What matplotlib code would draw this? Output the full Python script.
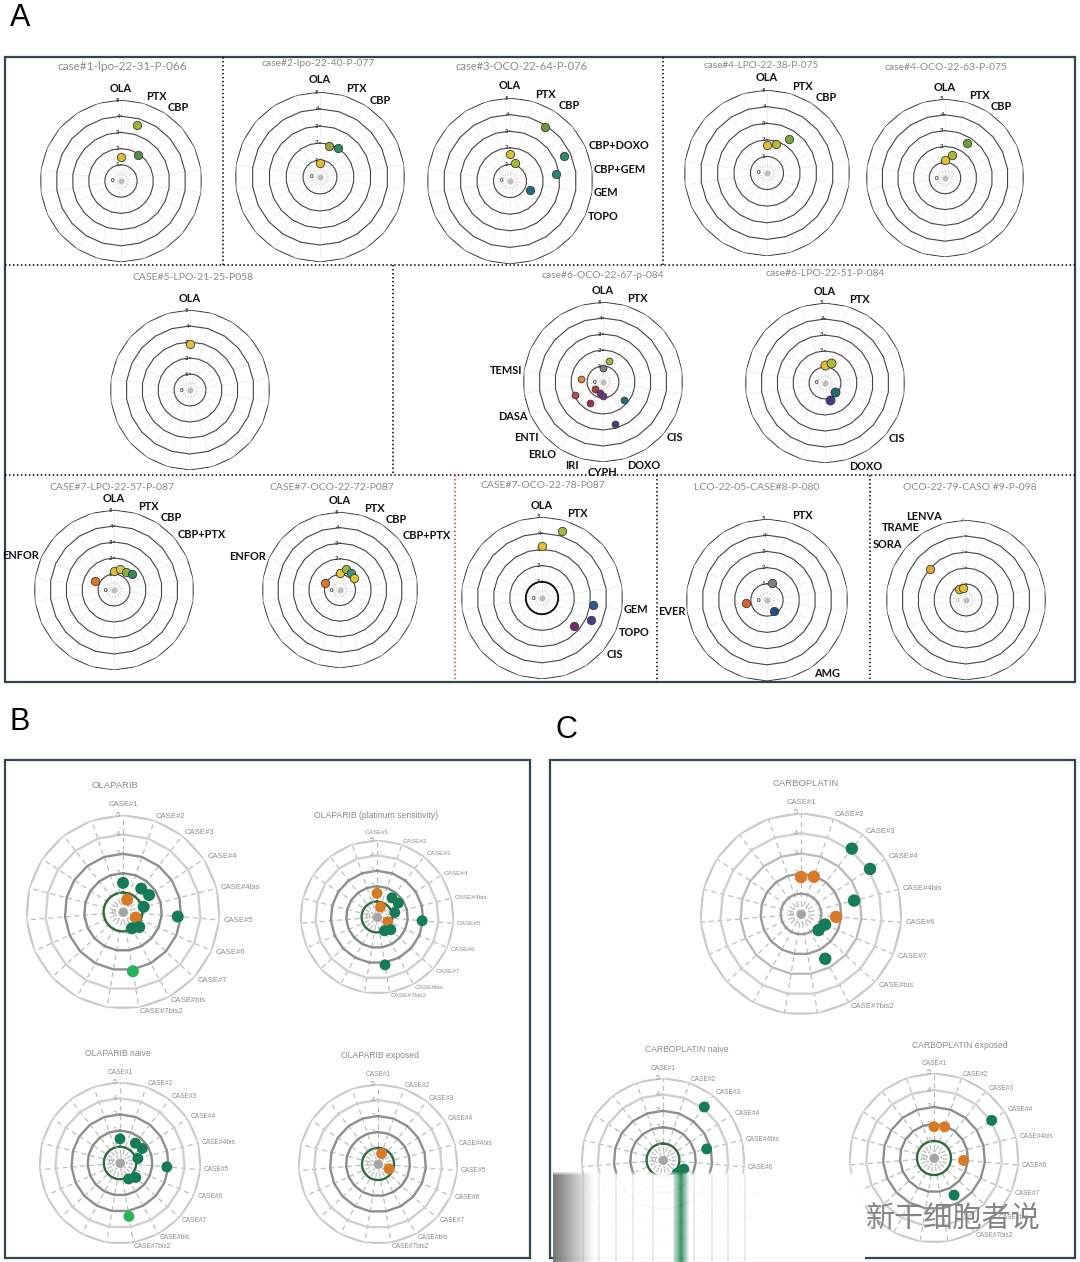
import numpy as np
import matplotlib.pyplot as plt
from matplotlib.patches import Rectangle

# ---------------- data ----------------
# panel A: every radar shares the same 22 drug spokes, clockwise from the top
drugs = ['OLA', 'PTX', 'CBP', 'CBP+PTX', 'CBP+DOXO', 'CBP+GEM', 'GEM', 'TOPO',
         'CIS', 'AMG', 'DOXO', 'CYPH', 'IRI', 'ERLO', 'ENTI', 'DASA', 'EVER',
         'TEMSI', 'ENFOR', 'SORA', 'TRAME', 'LENVA']

case1_title = 'case#1-lpo-22-31-P-066'
case1_drugs = ['OLA', 'PTX', 'CBP']
case1_scores = [1.5, 3.6, 1.9]
case1_colors = ['#e2bc2c', '#a3b23a', '#4e9440']

case2_title = 'case#2-lpo-22-40-P-077'
case2_drugs = ['OLA', 'PTX', 'CBP']
case2_scores = [0.8, 1.9, 2.0]
case2_colors = ['#e2bc2c', '#9aaa3a', '#2e8a5a']

case3_title = 'case#3-OCO-22-64-P-076'
case3_drugs = ['OLA', 'PTX', 'CBP', 'CBP+DOXO', 'CBP+GEM', 'GEM', 'TOPO']
case3_scores = [1.6, 1.1, 3.9, 3.6, 2.8, None, 1.35]
case3_colors = ['#e0bf30', '#a8b83a', '#6a9a3a', '#2a8a70', '#268479', None, '#1f6e80']

case4l_title = 'case#4-LPO-22-38-P-075'
case4l_drugs = ['OLA', 'PTX', 'CBP']
case4l_scores = [1.7, 1.85, 2.4]
case4l_colors = ['#e0bf30', '#b8b83a', '#7aa83a']

case4o_title = 'case#4-OCO-22-63-P-075'
case4o_drugs = ['OLA', 'PTX', 'CBP']
case4o_scores = [1.15, 1.5, 2.6]
case4o_colors = ['#e6c230', '#aab83a', '#6ea03a']

case5_title = 'CASE#5-LPO-21-25-P058'
case5_drugs = ['OLA']
case5_scores = [2.9]
case5_colors = ['#e6c230']

case6o_title = 'case#6-OCO-22-67-p-084'
case6o_drugs = ['OLA', 'PTX', 'TEMSI', 'DASA', 'ENTI', 'ERLO', 'IRI', 'CYPH', 'DOXO', 'CIS']
case6o_scores = [0.85, 1.4, 1.4, 1.95, 0.65, 1.55, 0.72, 0.85, 2.75, 1.7]
case6o_colors = ['#7f7f7f', '#a8b83a', '#d98a3a', '#c0484a', '#b03a3a', '#a83050',
                 '#7a2f7a', '#6a3a8a', '#4a3a8a', '#1f6e80']

case6l_title = 'case#6-LPO-22-51-P-084'
case6l_drugs = ['OLA', 'PTX', 'CIS', 'DOXO']
case6l_scores = [1.15, 1.3, 0.82, 1.1]
case6l_colors = ['#e3c02a', '#b8b83a', '#1f6a7a', '#3f3a8a']

case7l_title = 'CASE#7-LPO-22-57-P-087'
case7l_drugs = ['OLA', 'PTX', 'CBP', 'CBP+PTX', 'ENFOR']
case7l_scores = [1.2, 1.38, 1.35, 1.5, 1.3]
case7l_colors = ['#e0c030', '#d6c84a', '#8ab03a', '#2e8a5a', '#d9782a']

case7o_title = 'CASE#7-OCO-22-72-P087'
case7o_drugs = ['OLA', 'PTX', 'CBP', 'CBP+PTX', 'ENFOR']
case7o_scores = [1.08, 1.4, 1.3, 1.18, 1.08]
case7o_colors = ['#e6c830', '#9ab83a', '#3a9a7a', '#e0c830', '#d9782a']

case7b_title = 'CASE#7-OCO-22-78-P087'
case7b_drugs = ['OLA', 'PTX', 'GEM', 'TOPO', 'CIS']
case7b_scores = [3.2, 4.3, 3.2, 3.3, 2.6]
case7b_colors = ['#e6c230', '#a8b83a', '#2a5a9a', '#4a3a8a', '#7a2a6a']

case8_title = 'LCO-22-05-CASE#8-P-080'
case8_drugs = ['PTX', 'EVER', 'AMG']
case8_scores = [1.07, 1.3, 0.82]
case8_colors = ['#7f7f7f', '#d9602a', '#1f4e8a']

case9_title = 'OCO-22-79-CASO #9-P-098'
case9_drugs = ['SORA', 'TRAME', 'LENVA']
case9_scores = [3.0, 0.82, 0.75]
case9_colors = ['#e0a838', '#e6b82a', '#e6c030']

# panels B and C: 19 spokes, one per case
ola_cases = ['CASE#1', 'CASE#2', 'CASE#3', 'CASE#4', 'CASE#4bis', 'CASE#5',
             'CASE#6', 'CASE#7', 'CASE#bis', 'CASE#7bis2']
cbp_cases = ['CASE#1', 'CASE#2', 'CASE#3', 'CASE#4', 'CASE#4bis', 'CASE#6',
             'CASE#7', 'CASE#bis', 'CASE#7bis2']

GR, OR, LG = '#157c57', '#d97a27', '#26b35b'
ola_all = [1.5, 0.67, 1.53, 1.6, 1.1, 2.83, 0.72, 1.14, 0.96, 3.1]
ola_all_colors = [GR, OR, GR, GR, GR, GR, OR, GR, GR, LG]
ola_plat = [1.54, 0.69, 1.58, 1.65, 1.19, 2.94, 0.76, 1.22, 1.02, 3.15]
ola_plat_colors = [OR, OR, GR, GR, GR, GR, OR, GR, GR, GR]
ola_naive = [1.49, None, 1.55, 1.64, 1.14, 2.9, None, 1.32, 1.12, 3.34]
ola_naive_colors = [GR, None, GR, GR, GR, GR, None, GR, GR, LG]
ola_exp = [None, 0.69, None, None, None, None, 0.75, None, None, None]
ola_exp_colors = [None, OR, None, None, None, None, OR, None, None, None]

cbp_all = [1.83, 1.95, 4.1, 4.08, 2.71, 1.74, 1.3, 1.18, 2.52]
cbp_all_colors = [OR, OR, GR, GR, GR, OR, GR, GR, GR]
cbp_naive = [None, None, 4.1, None, 2.75, None, 1.38, 1.18, None]
cbp_naive_colors = [None, None, GR, None, GR, None, GR, GR, None]
cbp_exp = [1.84, 1.94, None, 4.05, None, 1.74, None, None, 2.48]
cbp_exp_colors = [OR, OR, None, GR, None, OR, None, None, GR]

# ---------------- figure ----------------
W, H = 1080, 1262
fig = plt.figure(figsize=(W / 100, H / 100), dpi=100)
bg = fig.add_axes([0, 0, 1, 1])
bg.set_xlim(0, W)
bg.set_ylim(H, 0)
bg.axis('off')

A_FONT = ['Lato', 'DejaVu Sans']
B_FONT = ['Liberation Sans', 'DejaVu Sans']
FRAME = '#2e4650'


def polar_at(cx, cy, R):
    ax = fig.add_axes([(cx - R) / W, 1 - (cy + R) / H, 2 * R / W, 2 * R / H],
                      projection='polar')
    ax.set_theta_zero_location('N')
    ax.set_theta_direction(-1)
    ax.set_ylim(0, 5)
    ax.axis('off')
    return ax


def label_align(deg):
    if deg < 8 or deg > 352:
        return 'center', 'bottom'
    if abs(deg - 180) < 8:
        return 'center', 'top'
    if deg < 180:
        return 'left', 'center'
    return 'right', 'center'


def radar_a(cx, cy, R, names, scores, colors, msize=36, ring_lab='#333333', bold_ring=False):
    ax = polar_at(cx, cy, R)
    n = len(drugs)
    th = np.linspace(0, 2 * np.pi, n + 1)
    circ = np.linspace(0, 2 * np.pi, 120)
    for k in range(n):
        ax.plot([th[k], th[k]], [0, 5], color='#d8d8d8', lw=0.5, ls=(0, (2, 2)))
    for v in range(1, 6):
        ax.plot(th, np.full(n + 1, v), color='#444444', lw=0.8)
    ax.plot(circ, np.full(120, 0.45), color='#cccccc', lw=0.8, ls=':')
    ax.scatter([0], [0], s=9, color='#bdbdbd', zorder=3)
    if bold_ring:
        ax.plot(circ, np.ones(120), color='#111111', lw=1.3)
    for v in range(6):
        ax.annotate(str(v), (0, v), xytext=(-4.5 if v == 0 else -1.2, 0),
                    textcoords='offset points', ha='right', va='center',
                    fontsize=4.4, color=ring_lab, fontweight='bold', family=A_FONT)
    for name, sc, col in zip(names, scores, colors):
        t = 2 * np.pi * drugs.index(name) / n
        ha, va = label_align(np.degrees(t))
        if va == 'bottom':
            r_lab = 5.4
        elif va == 'top':
            r_lab = 5.3
        else:
            r_lab = 5.0 + 0.45 * abs(np.cos(t))
        ax.text(t, r_lab, name, ha=ha, va=va, fontsize=7.9, fontweight='bold',
                family=A_FONT, color='#111111')
        if sc is not None:
            ax.scatter(t, sc, s=msize, color=col, edgecolors='#3a3a3a',
                       linewidths=0.6, zorder=6, clip_on=False)
    return ax


def radar_b(cx, cy, R, cases, values, colors, ring_cols, fs=5.3, msize=60):
    ax = polar_at(cx, cy, R)
    n = 19
    th = np.linspace(0, 2 * np.pi, n + 1)
    circ = np.linspace(0, 2 * np.pi, 120)
    for k in range(n):
        ax.plot([th[k], th[k]], [0, 5], color='#bdbdbd', lw=0.9, ls=(0, (4, 3)))
    for v in range(2, 6):
        ax.plot(th, np.full(n + 1, v), color=ring_cols[v - 1], lw=1.7)
    ax.plot(circ, np.ones(120), color=ring_cols[0], lw=1.7)
    ax.plot(circ, np.full(120, 0.42), color='#bfbfbf', lw=1.4, ls=(0, (1, 1.5)))
    ax.scatter([0], [0], s=28, color='#a5a5a5', zorder=3)
    for v in range(6):
        ax.annotate(str(v), (0, v), xytext=(-5 if v == 0 else -2, 0),
                    textcoords='offset points', ha='right', va='center',
                    fontsize=5.5, color='#a0a0a0', family=B_FONT)
    for i, name in enumerate(cases):
        t = 2 * np.pi * i / n
        ha, va = label_align(np.degrees(t))
        ax.text(t, 5.35 if va == 'bottom' else 5.2, name, ha=ha, va=va,
                fontsize=fs, color='#8c8c8c', family=B_FONT)
    for i, (val, col) in enumerate(zip(values, colors)):
        if val is not None:
            ax.scatter(2 * np.pi * i / n, val, s=msize, color=col,
                       edgecolors='none', zorder=6, clip_on=False)
    return ax


# ---------------- panel A ----------------
bg.text(20, 18, 'A', fontsize=22, ha='center', va='center', family=B_FONT)
bg.add_patch(Rectangle((5, 57), 1070, 625, fill=False, ec=FRAME, lw=1.6))
dots = (0, (1, 1.6))
bg.plot([5, 1075], [265, 265], color='k', lw=1.1, ls=dots)
bg.plot([5, 1075], [475, 475], color='k', lw=1.1, ls=dots)
for x, y0, y1, c in [(223, 57, 265, 'k'), (663, 57, 265, 'k'), (393, 265, 475, 'k'),
                     (455, 475, 682, '#d03a3a'), (657, 475, 682, 'k'), (870, 475, 682, 'k')]:
    bg.plot([x, x], [y0, y1], color=c, lw=1.1, ls=dots)

panels_a = [
    (case1_title, case1_drugs, case1_scores, case1_colors, (121, 181, 81), (122, 66), 8.5, {}),
    (case2_title, case2_drugs, case2_scores, case2_colors, (320, 177, 85), (318, 63), 7.5, {}),
    (case3_title, case3_drugs, case3_scores, case3_colors, (510, 181, 83), (522, 67), 8.0, {}),
    (case4l_title, case4l_drugs, case4l_scores, case4l_colors, (767, 173, 83), (761, 65), 7.2, {}),
    (case4o_title, case4o_drugs, case4o_scores, case4o_colors, (945, 178, 79), (946, 67), 7.5, {}),
    (case5_title, case5_drugs, case5_scores, case5_colors, (190, 390, 80), (193, 277), 7.5, {}),
    (case6o_title, case6o_drugs, case6o_scores, case6o_colors, (603, 382, 80), (603, 275), 7.5,
     {'msize': 24}),
    (case6l_title, case6l_drugs, case6l_scores, case6l_colors, (825, 383, 80), (825, 273), 7.5,
     {'msize': 42}),
    (case7l_title, case7l_drugs, case7l_scores, case7l_colors, (114, 590, 80), (112, 488), 7.5, {}),
    (case7o_title, case7o_drugs, case7o_scores, case7o_colors, (340, 590, 78), (332, 488), 7.5, {}),
    (case7b_title, case7b_drugs, case7b_scores, case7b_colors, (542, 598, 81), (543, 486), 7.5,
     {'bold_ring': True}),
    (case8_title, case8_drugs, case8_scores, case8_colors, (767, 600, 81), (757, 487), 7.5, {}),
    (case9_title, case9_drugs, case9_scores, case9_colors, (966, 600, 80), (970, 488), 7.5,
     {'ring_lab': '#b5b5b5'}),
]
for title, names, scores, colors, (cx, cy, R), (tx, ty), tfs, kw in panels_a:
    radar_a(cx, cy, R, names, scores, colors, **kw)
    bg.text(tx, ty, title, ha='center', va='center', fontsize=tfs,
            color='#8a8a8a', family=A_FONT)

# ---------------- panels B and C ----------------
bg.text(20, 722, 'B', fontsize=22, ha='center', va='center', family=B_FONT)
bg.text(566, 730, 'C', fontsize=22, ha='center', va='center', family=B_FONT)
bg.add_patch(Rectangle((5, 760), 525, 498, fill=False, ec=FRAME, lw=1.6))
bg.add_patch(Rectangle((550, 760), 525, 498, fill=False, ec=FRAME, lw=1.6))

GRN_RING = '#2f6b3b'
ola_rings = [GRN_RING, '#868c86', '#8f8f8f', '#d0d0d0', '#c9c9c9']
cbp_rings = ['#9a9a9a', '#9a9a9a', '#bcbcbc', '#d0d0d0', '#c9c9c9']

panels_b = [
    ('OLAPARIB', ola_cases, ola_all, ola_all_colors, (123, 912, 97), (115, 785), ola_rings, 5.6, 75),
    ('OLAPARIB (platinum sensitivity)', ola_cases, ola_plat, ola_plat_colors, (377, 917, 77),
     (376, 815), ola_rings, 4.6, 62),
    ('OLAPARIB naive', ola_cases, ola_naive, ola_naive_colors, (120, 1163, 81), (118, 1053),
     ola_rings, 4.8, 62),
    ('OLAPARIB exposed', ola_cases, ola_exp, ola_exp_colors, (378, 1164, 80), (380, 1056),
     ola_rings, 4.8, 62),
    ('CARBOPLATIN', cbp_cases, cbp_all, cbp_all_colors, (801, 914, 101), (806, 783), cbp_rings, 5.6, 80),
    ('CARBOPLATIN naive', cbp_cases, cbp_naive, cbp_naive_colors, (663, 1160, 82), (687, 1049),
     ola_rings, 4.8, 62),
    ('CARBOPLATIN exposed', cbp_cases, cbp_exp, cbp_exp_colors, (934, 1158, 85), (960, 1045),
     ola_rings, 4.8, 62),
]
for title, cases, vals, cols, (cx, cy, R), (tx, ty), rings, fs, ms in panels_b:
    radar_b(cx, cy, R, cases, vals, cols, rings, fs=fs, msize=ms)
    bg.text(tx, ty, title, ha='center', va='center', fontsize=6.8 if fs > 5 else 6.2,
            color='#8a8a8a', family=B_FONT)

# smeared strip and watermark at the bottom of panel C
sx0, sx1, sy0, sy1 = 553, 865, 1172, 1262
sw, sh = sx1 - sx0, sy1 - sy0
strip = np.ones((sh, sw, 4))
xs = np.arange(sw)
shade = 0.45 + 0.55 * np.clip(xs / 40.0, 0, 1)
strip[:, :, :3] = shade[None, :, None]
for xc in [582, 598, 615, 632, 652, 674, 693, 711, 727, 744]:
    i = xc - sx0
    strip[:, i:i + 2, :3] *= 0.93
g0 = 673 - sx0
green = np.array([0.18, 0.55, 0.37])
for j in range(16):
    w = 1 - abs(j - 7.5) / 8.5
    strip[:, g0 + j, :3] = strip[:, g0 + j, :3] * (1 - w) + green * w
strip[:, :, 3] = 0.96
strip[:4, :, 3] = np.linspace(0.3, 0.96, 4)[:, None]
sm = fig.add_axes([sx0 / W, 1 - sy1 / H, sw / W, sh / H])
sm.imshow(strip, aspect='auto', interpolation='bilinear')
sm.axis('off')
sm.set_zorder(5)
fig.text(953 / W, 1 - 1219 / H, '新干细胞者说', fontsize=21, color='#858585', ha='center',
         va='center', family=['Noto Sans CJK SC', 'DejaVu Sans'], zorder=10)

fig.savefig('out.png', dpi=100)
